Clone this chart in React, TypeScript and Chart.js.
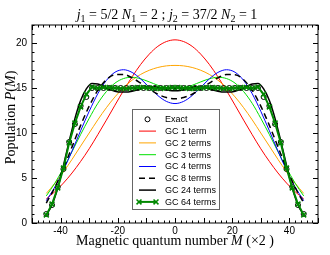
import React, { useEffect, useRef } from "react";
import { Chart, registerables } from "chart.js";
Chart.register(...registerables);

// ---- data ----
const mExact = [-45,-43,-41,-39,-37,-35,-33,-31,-29,-27,-25,-23,-21,-19,-17,-15,-13,-11,-9,-7,-5,-3,-1,1,3,5,7,9,11,13,15,17,19,21,23,25,27,29,31,33,35,37,39,41,43,45];
const exactPop = [1,2,4,6,9,11,13,14,
  15,15,15,15,15,15,15,15,15,15,
  15,15,15,15,15,15,15,15,15,15,
  15,15,15,15,15,15,15,15,15,15,
  14,13,11,9,6,4,2,1];

const mCurve = [-45,-42,-39,-36,-33,-30,-27,-24,-21,-18,-15,-12,-9,-6,-3,0,3,6,9,12,15,18,21,24,27,30,33,36,39,42,45];
const gc1 = [2.68,3.48,4.44,5.56,6.84,8.25,9.81,11.43,13.09,14.71,16.24,17.62,18.76,19.63,20.16,20.35,20.16,19.63,18.76,17.62,16.24,14.71,13.09,11.43,9.81,8.25,6.84,5.56,4.44,3.48,2.68];
const gc2 = [3.29,4.41,5.68,7.07,8.54,10.0,11.46,12.81,14.01,15.03,15.87,16.51,16.97,17.28,17.46,17.51,17.46,17.28,16.97,16.51,15.87,15.03,14.01,12.81,11.46,10.0,8.54,7.07,5.68,4.41,3.29];
const gc3 = [3.01,4.43,6.10,7.93,9.83,11.63,13.29,14.60,15.54,16.05,16.19,16.02,15.68,15.30,15.02,14.91,15.02,15.30,15.68,16.02,16.19,16.05,15.54,14.60,13.29,11.63,9.83,7.93,6.10,4.43,3.01];
const gc4 = [2.48,4.00,5.87,8.00,10.25,12.41,14.36,15.84,16.75,17.03,16.73,16.01,15.07,14.16,13.51,13.27,13.51,14.16,15.07,16.01,16.73,17.03,16.75,15.84,14.36,12.41,10.25,8.00,5.87,4.00,2.48];
const gc8 = [2.22,3.96,6.09,8.46,10.85,12.98,14.74,15.91,16.48,16.50,16.13,15.53,14.88,14.31,13.94,13.80,13.94,14.31,14.88,15.53,16.13,16.50,16.48,15.91,14.74,12.98,10.85,8.46,6.09,3.96,2.22];
const gc24 = [0.9,2.0,3.9,6.4,9.1,11.6,13.6,14.9,15.5,15.45,15.15,14.85,14.65,14.55,14.55,14.65,14.8,15.0,15.12,15.15,15.0,14.8,14.7,
  14.7,14.8,15.0,15.15,15.12,15.0,14.8,14.65,14.55,14.55,14.65,14.85,15.15,15.45,15.5,14.9,13.6,11.6,9.1,6.4,3.9,2.0,0.9];
const gc64 = [0.9,2.1,3.9,6.1,8.9,11.1,12.9,14.3,15.1,15.0,15.05,15.05,15.0,14.95,14.95,15.0,15.05,15.05,15.0,14.95,14.95,15.0,15.05,
  15.05,15.0,14.95,14.95,15.0,15.05,15.05,15.0,14.95,14.95,15.0,15.05,15.05,15.0,15.1,14.3,12.9,11.1,8.9,6.1,3.9,2.1,0.9];

const xTicks = [-40, -20, 0, 20, 40];
const yTicks = [0, 5, 10, 15, 20];

const serif = '"Liberation Serif", "Times New Roman", serif';
const sans = '"Liberation Sans", Arial, sans-serif';

type Seg = { t: string; it?: boolean; sub?: boolean };
const titleSegs: Seg[] = [
  { t: "j", it: true }, { t: "1", sub: true }, { t: " = 5/2 " },
  { t: "N", it: true }, { t: "1", sub: true }, { t: " = 2 ; " },
  { t: "j", it: true }, { t: "2", sub: true }, { t: " = 37/2 " },
  { t: "N", it: true }, { t: "2", sub: true }, { t: " = 1" },
];
const xTitleSegs: Seg[] = [{ t: "Magnetic quantum number " }, { t: "M", it: true }, { t: " (×2 )" }];
const yTitleSegs: Seg[] = [{ t: "Population " }, { t: "P", it: true }, { t: "(" }, { t: "M", it: true }, { t: ")" }];

function drawSegs(ctx: CanvasRenderingContext2D, segs: Seg[], cx: number, y: number, size: number, subSize: number) {
  const fontFor = (s: Seg) => `${s.it ? "italic " : ""}${s.sub ? subSize : size}px ${serif}`;
  let w = 0;
  for (const s of segs) { ctx.font = fontFor(s); w += ctx.measureText(s.t).width; }
  let x = cx - w / 2;
  ctx.textAlign = "left";
  ctx.textBaseline = "alphabetic";
  for (const s of segs) {
    ctx.font = fontFor(s);
    ctx.fillText(s.t, x, y + (s.sub ? 3 : 0));
    x += ctx.measureText(s.t).width;
  }
}

function crossRot(ctx: CanvasRenderingContext2D, x: number, y: number, r: number) {
  const o = Math.cos(Math.PI / 4) * r;
  ctx.moveTo(x - o, y - o); ctx.lineTo(x + o, y + o);
  ctx.moveTo(x - o, y + o); ctx.lineTo(x + o, y - o);
}

const decorPlugin = {
  id: "decor",
  afterDatasetsDraw(chart: any) {
    const { ctx, chartArea: a, scales } = chart;
    const xs = scales.x, ys = scales.y;
    ctx.save();
    ctx.strokeStyle = "#000";
    ctx.lineWidth = 1;
    ctx.beginPath();
    for (let v = xs.min; v <= xs.max; v += 2) {
      const px = Math.round(xs.getPixelForValue(v)) + 0.5;
      const len = v % 10 === 0 ? 5 : 2.5;
      ctx.moveTo(px, a.bottom); ctx.lineTo(px, a.bottom - len);
      ctx.moveTo(px, a.top); ctx.lineTo(px, a.top + len);
    }
    for (let v = ys.min; v <= ys.max; v += 1) {
      const py = Math.round(ys.getPixelForValue(v)) + 0.5;
      const len = v % 5 === 0 ? 5 : 2.5;
      ctx.moveTo(a.left, py); ctx.lineTo(a.left + len, py);
      ctx.moveTo(a.right, py); ctx.lineTo(a.right - len, py);
    }
    ctx.stroke();
    ctx.strokeRect(a.left, a.top, a.right - a.left, a.bottom - a.top);
    ctx.restore();
  },
  afterDraw(chart: any) {
    const { ctx, chartArea: a } = chart;
    ctx.save();
    ctx.fillStyle = "#000";
    drawSegs(ctx, titleSegs, 167, 18.5, 14, 10);
    drawSegs(ctx, xTitleSegs, (a.left + a.right) / 2, 245, 14, 10);
    ctx.save();
    ctx.translate(14.5, 117.5);
    ctx.rotate(-Math.PI / 2);
    drawSegs(ctx, yTitleSegs, 0, 0, 14, 10);
    ctx.restore();

    // legend
    const bx = 132.5, by = 109.5, bw = 87, bh = 100;
    ctx.fillStyle = "#fff";
    ctx.fillRect(bx, by, bw, bh);
    ctx.strokeStyle = "#666";
    ctx.lineWidth = 1;
    ctx.strokeRect(bx, by, bw, bh);
    const dss = chart.data.datasets;
    const x0 = 139, x1 = 156, tx = 165;
    dss.forEach((ds: any, i: number) => {
      const cy = 119.3 + i * 11.8;
      ctx.save();
      if (ds.showLine === false) {
        ctx.strokeStyle = ds.pointBorderColor || ds.borderColor;
        ctx.lineWidth = ds.pointBorderWidth || 1;
        ctx.beginPath();
        ctx.arc((x0 + x1) / 2, cy, ds.pointRadius, 0, Math.PI * 2);
        ctx.stroke();
      } else {
        ctx.strokeStyle = ds.borderColor;
        ctx.lineWidth = ds.borderWidth;
        ctx.setLineDash(ds.borderDash || []);
        ctx.beginPath();
        ctx.moveTo(x0, cy); ctx.lineTo(x1, cy);
        ctx.stroke();
        ctx.setLineDash([]);
        if (ds.pointRadius > 0) {
          ctx.strokeStyle = ds.pointBorderColor;
          ctx.lineWidth = ds.pointBorderWidth;
          ctx.beginPath();
          crossRot(ctx, x0, cy, ds.pointRadius);
          crossRot(ctx, x1, cy, ds.pointRadius);
          ctx.stroke();
        }
      }
      ctx.fillStyle = "#000";
      ctx.font = `9px ${sans}`;
      ctx.textAlign = "left";
      ctx.textBaseline = "middle";
      ctx.fillText(ds.label, tx, cy + 0.5);
      ctx.restore();
    });
    ctx.restore();
  },
};

const toXY = (xs: number[], ys: number[]) => xs.map((x, i) => ({ x, y: ys[i] }));

export default function App() {
  const ref = useRef<HTMLCanvasElement>(null);
  useEffect(() => {
    if (!ref.current) return;
    const curve = (label: string, ys: number[], color: string, extra: any = {}) => ({
      label,
      data: toXY(mCurve, ys),
      borderColor: color,
      borderWidth: 1,
      pointRadius: 0,
      cubicInterpolationMode: "monotone",
      ...extra,
    });
    const chart = new Chart(ref.current, {
      type: "line",
      data: {
        datasets: [
          {
            label: "Exact",
            data: toXY(mExact, exactPop),
            showLine: false,
            pointStyle: "circle",
            pointRadius: 2.5,
            pointBorderColor: "#000",
            pointBackgroundColor: "rgba(0,0,0,0)",
            pointBorderWidth: 1,
            borderColor: "#000",
            order: 1,
          } as any,
          curve("GC 1 term", gc1, "#ff0000", { order: 7 }),
          curve("GC 2 terms", gc2, "#ffa500", { order: 6 }),
          curve("GC 3 terms", gc3, "#00e000", { order: 5 }),
          curve("GC 4 terms", gc4, "#0000ff", { order: 4 }),
          curve("GC 8 terms", gc8, "#000000", { order: 3, borderWidth: 1.5, borderDash: [6, 4] }),
          {
            label: "GC 24 terms",
            data: toXY(mExact, gc24),
            borderColor: "#000",
            borderWidth: 1.5,
            pointRadius: 0,
            cubicInterpolationMode: "monotone",
            order: 2,
          } as any,
          {
            label: "GC 64 terms",
            data: toXY(mExact, gc64),
            borderColor: "#008800",
            borderWidth: 2,
            pointStyle: "crossRot",
            pointRadius: 3.5,
            pointBorderColor: "#008800",
            pointBorderWidth: 1.5,
            tension: 0,
            order: 0,
          } as any,
        ],
      },
      options: {
        animation: false,
        responsive: false,
        devicePixelRatio: 1,
        layout: { padding: { top: 25, right: 12, left: 0, bottom: 0 } },
        plugins: { legend: { display: false }, title: { display: false }, tooltip: { enabled: false } },
        scales: {
          x: {
            type: "linear",
            min: -50,
            max: 50,
            grid: { display: false, drawTicks: false },
            border: { display: false },
            ticks: { padding: 2, color: "#000", font: { family: sans, size: 10 }, maxRotation: 0 },
            afterBuildTicks: (s: any) => { s.ticks = xTicks.map((v) => ({ value: v })); },
            afterFit: (s: any) => { s.height = 32; },
          },
          y: {
            type: "linear",
            min: 0,
            max: 22,
            grid: { display: false, drawTicks: false },
            border: { display: false },
            ticks: { padding: 5, color: "#000", font: { family: sans, size: 10 } },
            afterBuildTicks: (s: any) => { s.ticks = yTicks.map((v) => ({ value: v })); },
            afterFit: (s: any) => { s.width = 32; },
          },
        },
      } as any,
      plugins: [decorPlugin],
    });
    return () => chart.destroy();
  }, []);
  return (
    <div style={{ position: "absolute", left: 0, top: 0, width: 330, height: 255, background: "#fff" }}>
      <canvas ref={ref} width={330} height={255} style={{ display: "block" }} />
    </div>
  );
}
